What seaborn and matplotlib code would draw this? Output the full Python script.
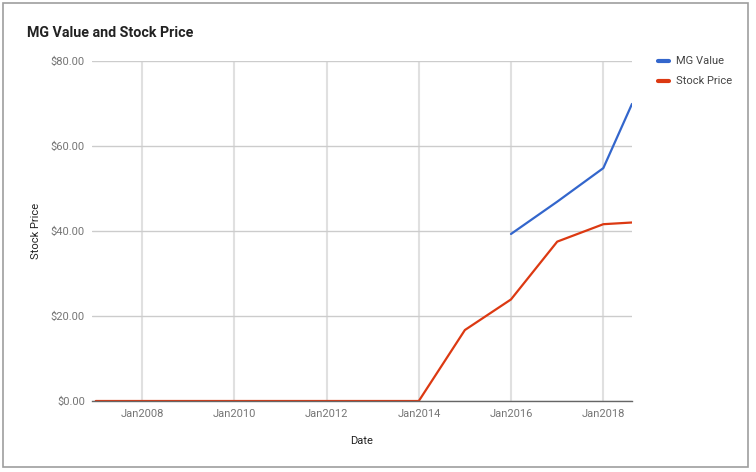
import matplotlib
matplotlib.use("Agg")
import matplotlib.pyplot as plt
from matplotlib.patches import Rectangle
import seaborn as sns
import pandas as pd

stock_dates = ["2006-12-31", "2007-12-31", "2008-12-31", "2009-12-31", "2010-12-31",
               "2011-12-31", "2012-12-31", "2013-12-31", "2014-12-31", "2015-12-31",
               "2016-12-31", "2017-12-31", "2018-08-15"]
stock_price = [0, 0, 0, 0, 0, 0, 0, 0, 16.7, 23.9, 37.5, 41.6, 42.0]

mg_dates = ["2015-12-31", "2016-12-31", "2017-12-31", "2018-08-15"]
mg_value = [39.3, 46.9, 54.8, 69.9]

series_names = ["MG Value", "Stock Price"]
colors = {"MG Value": "#3366cc", "Stock Price": "#dc3912"}

df = pd.concat([
    pd.DataFrame({"Date": pd.to_datetime(mg_dates), "Value": mg_value, "Series": "MG Value"}),
    pd.DataFrame({"Date": pd.to_datetime(stock_dates), "Value": stock_price, "Series": "Stock Price"}),
])

sns.set_style("white")
plt.rcParams['font.family'] = ['Roboto', 'DejaVu Sans']

W, H = 756, 472
fig = plt.figure(figsize=(W / 100, H / 100), dpi=100)
ax = fig.add_axes([92 / W, 1 - 401 / H, (632 - 92) / W, (401 - 61) / H])

sns.lineplot(data=df, x="Date", y="Value", hue="Series", hue_order=series_names,
             palette=colors, linewidth=1.6, ax=ax, legend=False, zorder=3)

x0 = pd.Timestamp("2006-12-01")
x1 = pd.Timestamp("2018-08-15")
ax.set_xlim(x0, x1)
ax.set_ylim(0, 80)

ax.set_yticks([0, 20, 40, 60, 80])
ax.set_yticklabels(["$0.00", "$20.00", "$40.00", "$60.00", "$80.00"])
xt = pd.to_datetime(["2008-01-01", "2010-01-01", "2012-01-01", "2014-01-01", "2016-01-01", "2018-01-01"])
ax.set_xticks(xt)
ax.set_xticklabels(["Jan2008", "Jan2010", "Jan2012", "Jan2014", "Jan2016", "Jan2018"])

ax.tick_params(axis="both", length=0, labelsize=8, colors="#757575")
ax.tick_params(axis="y", pad=5)
ax.tick_params(axis="x", pad=6)

ax.grid(axis="y", color="#cccccc", linewidth=1)
ax.grid(axis="x", color="#e0e0e0", linewidth=1.5)
for s in ["top", "right", "left"]:
    ax.spines[s].set_visible(False)
ax.spines["bottom"].set_color("#666666")
ax.spines["bottom"].set_linewidth(1)
ax.spines["bottom"].set_zorder(4)

ax.set_xlabel("Date", fontsize=8, color="#222222", labelpad=12)
ax.set_ylabel("Stock Price", fontsize=8, color="#222222", labelpad=7)

fig.text(27 / W, 1 - 33 / H, "MG Value and Stock Price", fontsize=10.3, fontweight="bold",
         color="#222222", va="center", ha="left")

# legend
for i, name in enumerate(series_names):
    y = 1 - (61 + 20 * i) / H
    fig.add_artist(plt.Line2D([658 / W, 669 / W], [y, y], color=colors[name], linewidth=3,
                              transform=fig.transFigure))
    fig.text(676 / W, y, name, fontsize=8, color="#444444", va="center", ha="left")

# chart border
fig.add_artist(Rectangle((3 / W, 1 - 467 / H), 745 / W, 464 / H, transform=fig.transFigure,
                         fill=False, edgecolor="#9e9e9e", linewidth=1.2))

fig.savefig("out.png", dpi=100)
